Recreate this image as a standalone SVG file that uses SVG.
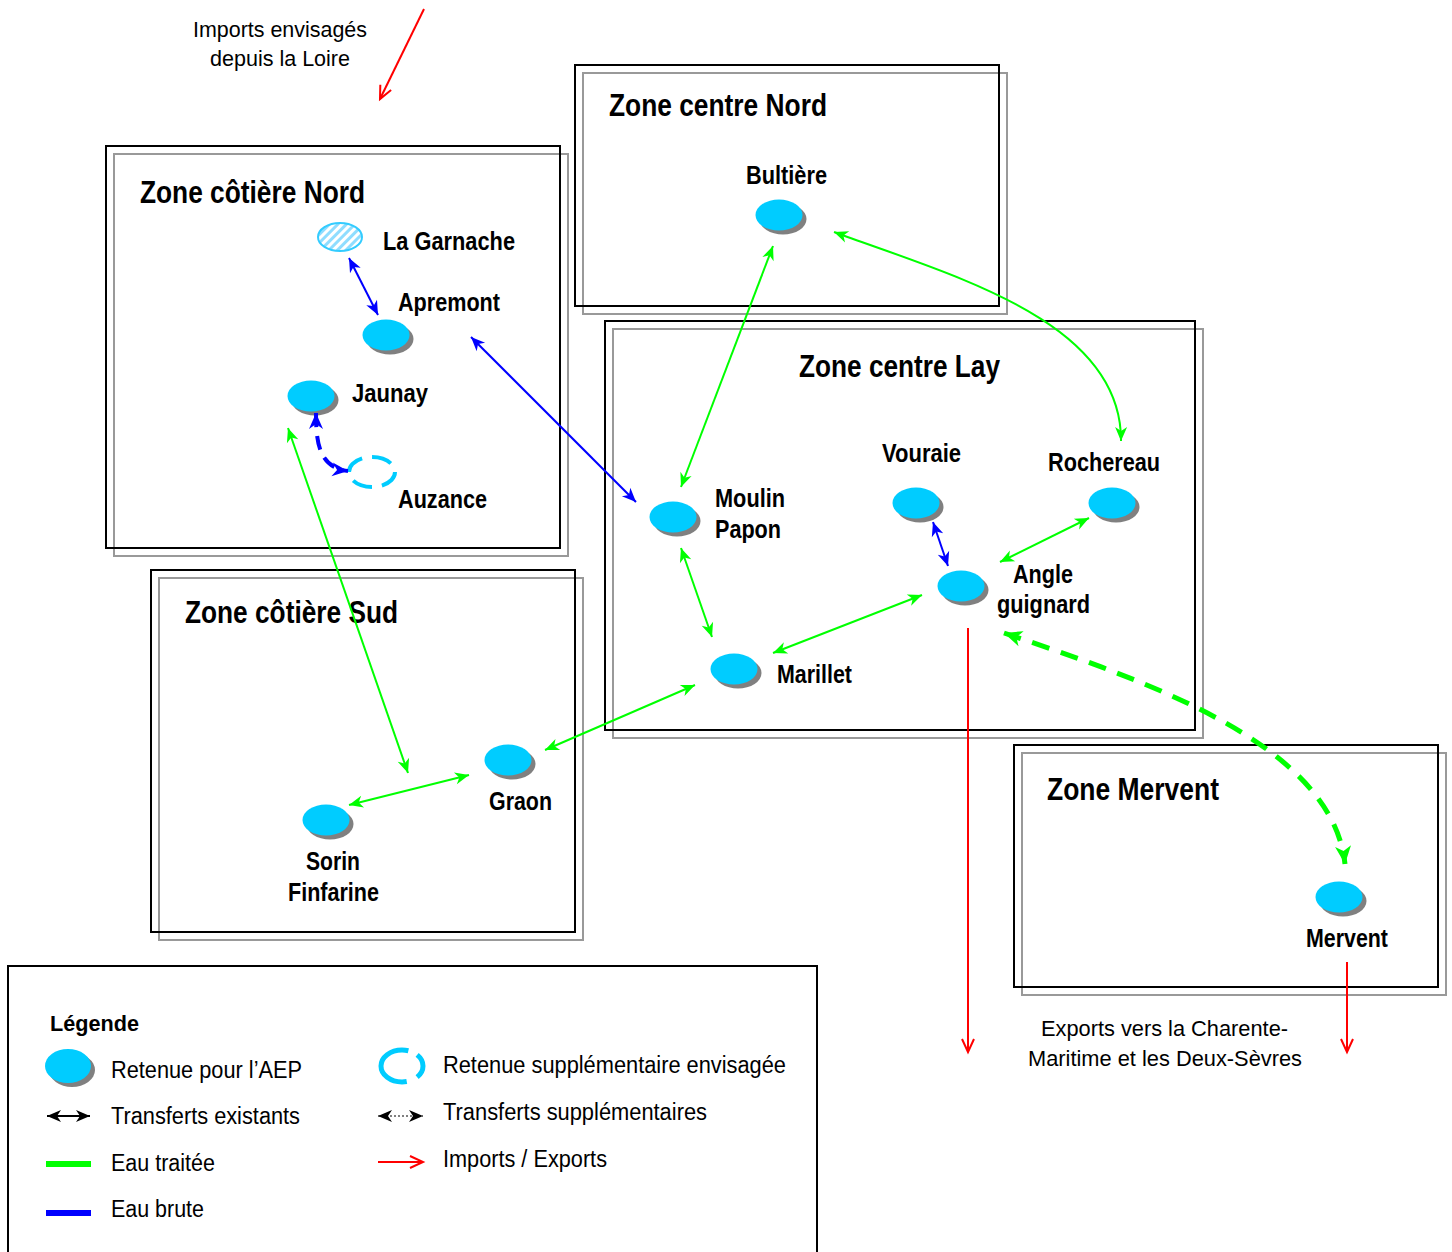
<svg xmlns="http://www.w3.org/2000/svg" width="1452" height="1252" viewBox="0 0 1452 1252">
  <style>
    text { font-family: "Liberation Sans Narrow", "Liberation Sans", Arial, sans-serif; fill: #000; }
    .title { font-size: 31px; font-weight: bold; }
    .lbl { font-size: 25px; font-weight: bold; }
    .note { font-size: 22px; }
    .leg { font-size: 23px; }
    .legt { font-size: 22px; font-weight: bold; }
    .zb { fill: none; stroke: #000; stroke-width: 2; }
    .zs { fill: none; stroke: #999; stroke-width: 2; }
    .res { fill: #00CCFF; }
    .sh { fill: #808080; }
    .plan { fill: none; stroke: #00CCFF; stroke-width: 4; stroke-dasharray: 20 10; }
    .g { fill: none; stroke: #00FF00; stroke-width: 2; }
    .b { fill: none; stroke: #0000FF; stroke-width: 2; }
    .gd { fill: none; stroke: #00FF00; stroke-width: 5; stroke-dasharray: 18 12; }
    .bd { fill: none; stroke: #0000FF; stroke-width: 4; stroke-dasharray: 14 9; }
    .r { fill: none; stroke: #FF0000; stroke-width: 2; }
  </style>
  <defs>
    <marker id="aG" markerUnits="userSpaceOnUse" markerWidth="16" markerHeight="14" refX="14" refY="7" orient="auto-start-reverse" overflow="visible">
      <path d="M0,1 L14,7 L0,13 L4,7 z" fill="#00FF00"/>
    </marker>
    <marker id="aB" markerUnits="userSpaceOnUse" markerWidth="16" markerHeight="14" refX="14" refY="7" orient="auto-start-reverse" overflow="visible">
      <path d="M0,1 L14,7 L0,13 L4,7 z" fill="#0000FF"/>
    </marker>
    <marker id="aGL" markerUnits="userSpaceOnUse" markerWidth="20" markerHeight="18" refX="18" refY="9" orient="auto-start-reverse" overflow="visible">
      <path d="M0,1 L18,9 L0,17 L5,9 z" fill="#00FF00"/>
    </marker>
    <marker id="aBL" markerUnits="userSpaceOnUse" markerWidth="18" markerHeight="16" refX="16" refY="8" orient="auto-start-reverse" overflow="visible">
      <path d="M0,1 L16,8 L0,15 L5,8 z" fill="#0000FF"/>
    </marker>
    <marker id="aK" markerUnits="userSpaceOnUse" markerWidth="16" markerHeight="14" refX="14" refY="7" orient="auto-start-reverse" overflow="visible">
      <path d="M0,1 L14,7 L0,13 L4,7 z" fill="#000"/>
    </marker>
    <marker id="aR" markerUnits="userSpaceOnUse" markerWidth="14" markerHeight="12" refX="13" refY="6" orient="auto" overflow="visible">
      <path d="M0,0 L13,6 L0,12" fill="none" stroke="#FF0000" stroke-width="2"/>
    </marker>
    <pattern id="hatch" patternUnits="userSpaceOnUse" width="6" height="6" patternTransform="rotate(45)">
      <rect width="6" height="6" fill="#fff"/>
      <rect width="3" height="6" fill="#8FDDFF"/>
    </pattern>
  </defs>

  <rect width="1452" height="1252" fill="#fff"/>

  <!-- Zones -->
  <g id="zone-cotiere-nord">
    <rect class="zs" x="114" y="154" width="454" height="402"/>
    <rect class="zb" x="106" y="146" width="454" height="402"/>
    <text class="title" x="140" y="203" textLength="225" lengthAdjust="spacingAndGlyphs">Zone côtière Nord</text>
  </g>
  <g id="zone-centre-nord">
    <rect class="zs" x="583" y="73" width="424" height="241"/>
    <rect class="zb" x="575" y="65" width="424" height="241"/>
    <text class="title" x="609" y="116" textLength="218" lengthAdjust="spacingAndGlyphs">Zone centre Nord</text>
  </g>
  <g id="zone-centre-lay">
    <rect class="zs" x="613" y="329" width="590" height="409"/>
    <rect class="zb" x="605" y="321" width="590" height="409"/>
    <text class="title" x="799" y="377" textLength="201" lengthAdjust="spacingAndGlyphs">Zone centre Lay</text>
  </g>
  <g id="zone-cotiere-sud">
    <rect class="zs" x="159" y="578" width="424" height="362"/>
    <rect class="zb" x="151" y="570" width="424" height="362"/>
    <text class="title" x="185" y="623" textLength="213" lengthAdjust="spacingAndGlyphs">Zone côtière Sud</text>
  </g>
  <g id="zone-mervent">
    <rect class="zs" x="1022" y="753" width="424" height="242"/>
    <rect class="zb" x="1014" y="745" width="424" height="242"/>
    <text class="title" x="1047" y="800" textLength="172" lengthAdjust="spacingAndGlyphs">Zone Mervent</text>
  </g>

  <!-- Reservoirs -->
  <g id="la-garnache">
    <ellipse cx="340" cy="237" rx="22" ry="14" fill="url(#hatch)" stroke="#33CCFF" stroke-width="2"/>
    <text class="lbl" x="383" y="250" textLength="132" lengthAdjust="spacingAndGlyphs">La Garnache</text>
  </g>
  <g id="apremont">
    <ellipse class="sh" cx="390" cy="339" rx="23.5" ry="15.5"/>
    <ellipse class="res" cx="386" cy="335" rx="23.5" ry="15.5"/>
    <text class="lbl" x="398" y="311" textLength="102" lengthAdjust="spacingAndGlyphs">Apremont</text>
  </g>
  <g id="jaunay">
    <ellipse class="sh" cx="315" cy="400" rx="23.5" ry="15.5"/>
    <ellipse class="res" cx="311" cy="396" rx="23.5" ry="15.5"/>
    <text class="lbl" x="352" y="402" textLength="76" lengthAdjust="spacingAndGlyphs">Jaunay</text>
  </g>
  <g id="auzance">
    <ellipse class="plan" cx="372" cy="472" rx="23" ry="15"/>
    <text class="lbl" x="398" y="508" textLength="89" lengthAdjust="spacingAndGlyphs">Auzance</text>
  </g>
  <g id="bultiere">
    <ellipse class="sh" cx="783" cy="219" rx="23.5" ry="15.5"/>
    <ellipse class="res" cx="779" cy="215" rx="23.5" ry="15.5"/>
    <text class="lbl" x="746" y="184" textLength="81" lengthAdjust="spacingAndGlyphs">Bultière</text>
  </g>
  <g id="moulin-papon">
    <ellipse class="sh" cx="677" cy="521" rx="23.5" ry="15.5"/>
    <ellipse class="res" cx="673" cy="517" rx="23.5" ry="15.5"/>
    <text class="lbl" x="715" y="507" textLength="70" lengthAdjust="spacingAndGlyphs">Moulin</text>
    <text class="lbl" x="715" y="538" textLength="66" lengthAdjust="spacingAndGlyphs">Papon</text>
  </g>
  <g id="vouraie">
    <ellipse class="sh" cx="920" cy="507" rx="23.5" ry="15.5"/>
    <ellipse class="res" cx="916" cy="503" rx="23.5" ry="15.5"/>
    <text class="lbl" x="882" y="462" textLength="79" lengthAdjust="spacingAndGlyphs">Vouraie</text>
  </g>
  <g id="rochereau">
    <ellipse class="sh" cx="1116" cy="507" rx="23.5" ry="15.5"/>
    <ellipse class="res" cx="1112" cy="503" rx="23.5" ry="15.5"/>
    <text class="lbl" x="1048" y="471" textLength="112" lengthAdjust="spacingAndGlyphs">Rochereau</text>
  </g>
  <g id="angle-guignard">
    <ellipse class="sh" cx="965" cy="590" rx="23.5" ry="15.5"/>
    <ellipse class="res" cx="961" cy="586" rx="23.5" ry="15.5"/>
    <text class="lbl" x="1013" y="583" textLength="60" lengthAdjust="spacingAndGlyphs">Angle</text>
    <text class="lbl" x="997" y="613" textLength="93" lengthAdjust="spacingAndGlyphs">guignard</text>
  </g>
  <g id="marillet">
    <ellipse class="sh" cx="738" cy="673" rx="23.5" ry="15.5"/>
    <ellipse class="res" cx="734" cy="669" rx="23.5" ry="15.5"/>
    <text class="lbl" x="777" y="683" textLength="75" lengthAdjust="spacingAndGlyphs">Marillet</text>
  </g>
  <g id="graon">
    <ellipse class="sh" cx="512" cy="764" rx="23.5" ry="15.5"/>
    <ellipse class="res" cx="508" cy="760" rx="23.5" ry="15.5"/>
    <text class="lbl" x="489" y="810" textLength="63" lengthAdjust="spacingAndGlyphs">Graon</text>
  </g>
  <g id="sorin-finfarine">
    <ellipse class="sh" cx="330" cy="824" rx="23.5" ry="15.5"/>
    <ellipse class="res" cx="326" cy="820" rx="23.5" ry="15.5"/>
    <text class="lbl" x="306" y="870" textLength="54" lengthAdjust="spacingAndGlyphs">Sorin</text>
    <text class="lbl" x="288" y="901" textLength="91" lengthAdjust="spacingAndGlyphs">Finfarine</text>
  </g>
  <g id="mervent">
    <ellipse class="sh" cx="1343" cy="901" rx="23.5" ry="15.5"/>
    <ellipse class="res" cx="1339" cy="897" rx="23.5" ry="15.5"/>
    <text class="lbl" x="1306" y="947" textLength="82" lengthAdjust="spacingAndGlyphs">Mervent</text>
  </g>

  <!-- Import / export notes -->
  <g id="note-loire">
    <text class="note" x="193" y="37" textLength="174" lengthAdjust="spacingAndGlyphs">Imports envisagés</text>
    <text class="note" x="210" y="66" textLength="140" lengthAdjust="spacingAndGlyphs">depuis la Loire</text>
  </g>
  <g id="note-exports">
    <text class="note" x="1041" y="1036" textLength="247" lengthAdjust="spacingAndGlyphs">Exports vers la Charente-</text>
    <text class="note" x="1028" y="1066" textLength="274" lengthAdjust="spacingAndGlyphs">Maritime et les Deux-Sèvres</text>
  </g>

  <!-- Connectors -->
  <g id="connectors">
    <!-- raw water -->
    <line class="b" x1="349" y1="258" x2="378" y2="315" marker-start="url(#aB)" marker-end="url(#aB)"/>
    <line class="b" x1="471" y1="337" x2="636" y2="502" marker-start="url(#aB)" marker-end="url(#aB)"/>
    <line class="b" x1="933" y1="522" x2="948" y2="566" marker-start="url(#aB)" marker-end="url(#aB)"/>
    <path class="bd" d="M316,413 C316,440 318,468 348,471" marker-start="url(#aBL)" marker-end="url(#aBL)"/>
    <!-- treated water -->
    <line class="g" x1="288" y1="428" x2="408" y2="773" marker-start="url(#aG)" marker-end="url(#aG)"/>
    <line class="g" x1="349" y1="805" x2="469" y2="775" marker-start="url(#aG)" marker-end="url(#aG)"/>
    <line class="g" x1="545" y1="750" x2="695" y2="685" marker-start="url(#aG)" marker-end="url(#aG)"/>
    <line class="g" x1="773" y1="653" x2="922" y2="595" marker-start="url(#aG)" marker-end="url(#aG)"/>
    <line class="g" x1="681" y1="548" x2="712" y2="637" marker-start="url(#aG)" marker-end="url(#aG)"/>
    <line class="g" x1="681" y1="487" x2="773" y2="246" marker-start="url(#aG)" marker-end="url(#aG)"/>
    <line class="g" x1="1089" y1="518" x2="1000" y2="562" marker-start="url(#aG)" marker-end="url(#aG)"/>
    <path class="g" d="M834,232 C950,275 1122,320 1121,441" marker-start="url(#aG)" marker-end="url(#aG)"/>
    <path class="gd" d="M1004,633 C1150,682 1332,745 1345,864" marker-start="url(#aGL)" marker-end="url(#aGL)"/>
    <!-- imports / exports -->
    <line class="r" x1="424" y1="9" x2="380" y2="99" marker-end="url(#aR)"/>
    <line class="r" x1="968" y1="628" x2="968" y2="1052" marker-end="url(#aR)"/>
    <line class="r" x1="1347" y1="962" x2="1347" y2="1052" marker-end="url(#aR)"/>
  </g>

  <!-- Legend -->
  <g id="legend">
    <rect x="8" y="966" width="809" height="300" fill="none" stroke="#000" stroke-width="2"/>
    <text class="legt" x="50" y="1031" textLength="89" lengthAdjust="spacingAndGlyphs">Légende</text>
    <ellipse class="sh" cx="72" cy="1070" rx="23" ry="17"/>
    <ellipse class="res" cx="68" cy="1066" rx="23" ry="17"/>
    <text class="leg" x="111" y="1078" textLength="191" lengthAdjust="spacingAndGlyphs">Retenue pour l’AEP</text>
    <line x1="47" y1="1116" x2="90" y2="1116" stroke="#000" stroke-width="2" marker-start="url(#aK)" marker-end="url(#aK)"/>
    <text class="leg" x="111" y="1124" textLength="189" lengthAdjust="spacingAndGlyphs">Transferts existants</text>
    <line x1="46" y1="1164" x2="91" y2="1164" stroke="#00FF00" stroke-width="6"/>
    <text class="leg" x="111" y="1171" textLength="104" lengthAdjust="spacingAndGlyphs">Eau traitée</text>
    <line x1="46" y1="1213" x2="91" y2="1213" stroke="#0000FF" stroke-width="6"/>
    <text class="leg" x="111" y="1217" textLength="93" lengthAdjust="spacingAndGlyphs">Eau brute</text>

    <ellipse cx="402" cy="1066" rx="21" ry="16" pathLength="360" fill="none" stroke="#00CCFF" stroke-width="5" stroke-dasharray="40 35 215 30 40"/>
    <text class="leg" x="443" y="1073" textLength="343" lengthAdjust="spacingAndGlyphs">Retenue supplémentaire envisagée</text>
    <line x1="378" y1="1116" x2="423" y2="1116" stroke="#000" stroke-width="1" stroke-dasharray="2 2" marker-start="url(#aK)" marker-end="url(#aK)"/>
    <text class="leg" x="443" y="1120" textLength="264" lengthAdjust="spacingAndGlyphs">Transferts supplémentaires</text>
    <line x1="378" y1="1162" x2="423" y2="1162" class="r" marker-end="url(#aR)"/>
    <text class="leg" x="443" y="1167" textLength="164" lengthAdjust="spacingAndGlyphs">Imports / Exports</text>
  </g>
</svg>
